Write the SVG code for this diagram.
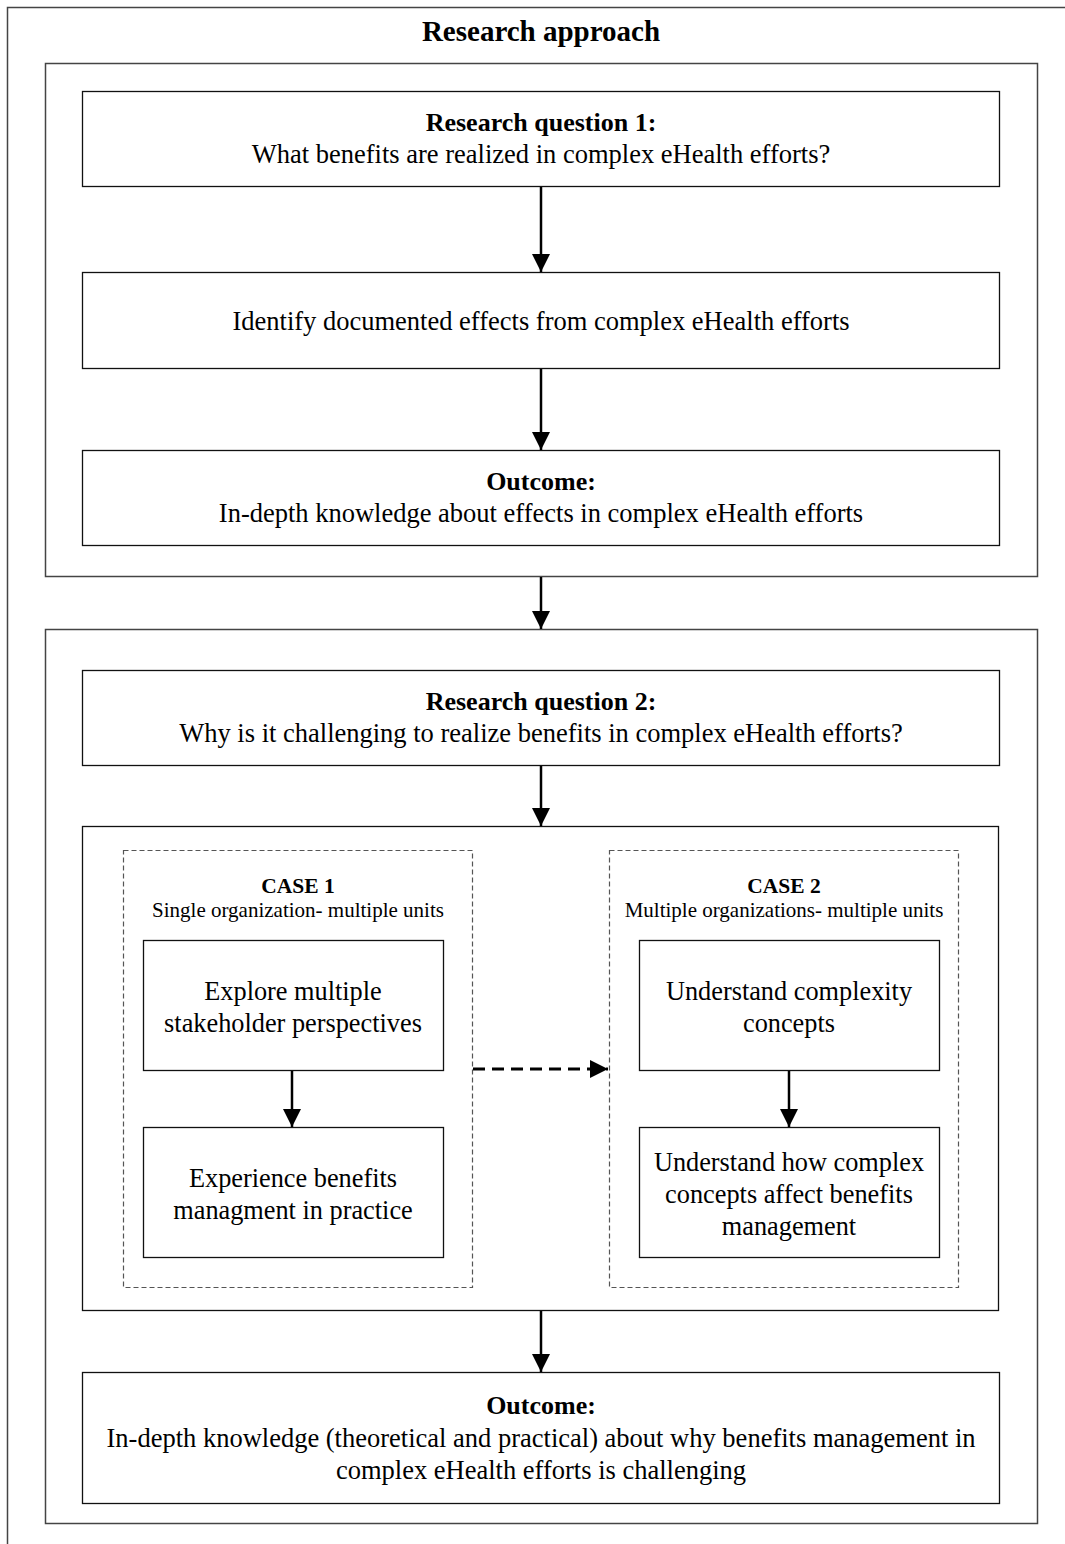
<svg xmlns="http://www.w3.org/2000/svg" width="1065" height="1544" viewBox="0 0 1065 1544">
  <style>
    text { font-family: "Liberation Serif", "Times New Roman", serif; fill: #000; text-anchor: middle; }
    .title { font-size: 29px; font-weight: bold; }
    .head { font-size: 26px; font-weight: bold; }
    .body { font-size: 26.5px; }
    .step { font-size: 26.3px; }
    .case { font-size: 21.5px; font-weight: bold; }
    .sub { font-size: 21px; }
    .frame { fill: none; stroke: #444; stroke-width: 1.5; }
    .box { fill: #fff; stroke: #111; stroke-width: 1.3; }
    .dash { fill: none; stroke: #555; stroke-width: 1.2; stroke-dasharray: 5 3; }
    .arrow { fill: none; stroke: #000; stroke-width: 2.5; marker-end: url(#head); }
    .darrow { fill: none; stroke: #000; stroke-width: 3; stroke-dasharray: 12 7; marker-end: url(#head); }
  </style>
  <defs>
    <marker id="head" markerUnits="userSpaceOnUse" markerWidth="20" markerHeight="20" viewBox="0 0 20 20" refX="18" refY="10" orient="auto">
      <path d="M0,1 L18,10 L0,19 Z" fill="#000"/>
    </marker>
  </defs>

  <rect width="1065" height="1544" fill="#fff"/>

  <!-- page frame -->
  <g id="frame">
    <rect class="frame" x="7.5" y="7.5" width="1100" height="1600"/>
    <text class="title" x="541" y="41">Research approach</text>
  </g>

  <!-- phase 1 -->
  <g id="phase1">
    <rect class="frame" x="45.5" y="63.5" width="992" height="513"/>
  </g>
  <g id="rq1">
    <rect class="box" x="82.5" y="91.5" width="917" height="95"/>
    <text class="head" x="541" y="131">Research question 1:</text>
    <text class="body" x="541" y="163">What benefits are realized in complex eHealth efforts?</text>
  </g>
  <g id="identify">
    <rect class="box" x="82.5" y="272.5" width="917" height="96"/>
    <text class="body" x="541" y="330">Identify documented effects from complex eHealth efforts</text>
  </g>
  <g id="outcome1">
    <rect class="box" x="82.5" y="450.5" width="917" height="95"/>
    <text class="head" x="541" y="490">Outcome:</text>
    <text class="body" x="541" y="522">In-depth knowledge about effects in complex eHealth efforts</text>
  </g>

  <!-- phase 2 -->
  <g id="phase2">
    <rect class="frame" x="45.5" y="629.5" width="992" height="894"/>
  </g>
  <g id="rq2">
    <rect class="box" x="82.5" y="670.5" width="917" height="95"/>
    <text class="head" x="541" y="710">Research question 2:</text>
    <text class="body" x="541" y="742">Why is it challenging to realize benefits in complex eHealth efforts?</text>
  </g>
  <g id="cases">
    <rect class="box" x="82.5" y="826.5" width="916" height="484"/>
  </g>
  <g id="case1">
    <rect class="dash" x="123.5" y="850.5" width="349" height="437"/>
    <text class="case" x="298" y="893">CASE 1</text>
    <text class="sub" x="298" y="917">Single organization- multiple units</text>
  </g>
  <g id="explore">
    <rect class="box" x="143.5" y="940.5" width="300" height="130"/>
    <text class="step" x="293" y="1000">Explore multiple</text>
    <text class="step" x="293" y="1032">stakeholder perspectives</text>
  </g>
  <g id="experience">
    <rect class="box" x="143.5" y="1127.5" width="300" height="130"/>
    <text class="step" x="293" y="1187">Experience benefits</text>
    <text class="step" x="293" y="1219">managment in practice</text>
  </g>
  <g id="case2">
    <rect class="dash" x="609.5" y="850.5" width="349" height="437"/>
    <text class="case" x="784" y="893">CASE 2</text>
    <text class="sub" x="784" y="917">Multiple organizations- multiple units</text>
  </g>
  <g id="complexity">
    <rect class="box" x="639.5" y="940.5" width="300" height="130"/>
    <text class="step" x="789" y="1000">Understand complexity</text>
    <text class="step" x="789" y="1032">concepts</text>
  </g>
  <g id="affect">
    <rect class="box" x="639.5" y="1127.5" width="300" height="130"/>
    <text class="step" x="789" y="1171">Understand how complex</text>
    <text class="step" x="789" y="1203">concepts affect benefits</text>
    <text class="step" x="789" y="1235">management</text>
  </g>
  <g id="outcome2">
    <rect class="box" x="82.5" y="1372.5" width="917" height="131"/>
    <text class="head" x="541" y="1414">Outcome:</text>
    <text class="body" x="541" y="1447">In-depth knowledge (theoretical and practical) about why benefits management in</text>
    <text class="body" x="541" y="1479">complex eHealth efforts is challenging</text>
  </g>

  <!-- connectors -->
  <g id="connectors">
    <line class="arrow" x1="541" y1="187" x2="541" y2="272"/>
    <line class="arrow" x1="541" y1="369" x2="541" y2="450"/>
    <line class="arrow" x1="541" y1="577" x2="541" y2="629"/>
    <line class="arrow" x1="541" y1="766" x2="541" y2="826"/>
    <line class="arrow" x1="292" y1="1071" x2="292" y2="1127"/>
    <line class="arrow" x1="789" y1="1071" x2="789" y2="1127"/>
    <line class="arrow" x1="541" y1="1311" x2="541" y2="1372"/>
    <line class="darrow" x1="473" y1="1069" x2="608" y2="1069"/>
  </g>
</svg>
